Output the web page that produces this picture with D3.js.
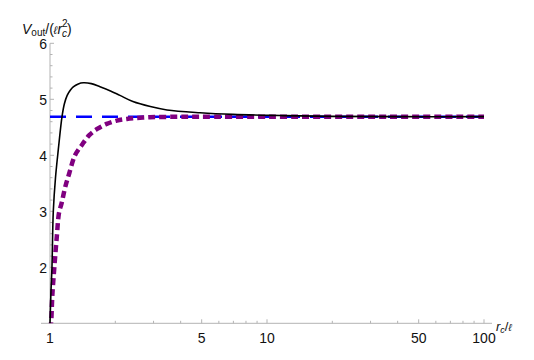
<!DOCTYPE html>
<html><head><meta charset="utf-8">
<script src="https://cdn.jsdelivr.net/npm/d3@7"></script>
<style>
body{margin:0;background:#fff;}
svg text{font-family:"Liberation Sans",Arial,sans-serif;fill:#111;}
</style></head>
<body><svg id="c" width="534" height="360"></svg>
<script>
// data
const asymptote = 4.69;
const blackX = [1.0, 1.01, 1.021, 1.0356, 1.06, 1.092, 1.136, 1.165, 1.2, 1.24, 1.28, 1.35, 1.424, 1.55, 1.70, 1.90, 2.10, 2.41, 2.9, 3.46, 4.91, 6.97, 11.5, 20, 40, 100];
const blackY = [1.0, 1.55, 2.0, 3.0, 3.6, 4.1, 4.69, 4.92, 5.07, 5.16, 5.22, 5.275, 5.295, 5.28, 5.225, 5.15, 5.07, 4.96, 4.87, 4.81, 4.76, 4.73, 4.71, 4.695, 4.69, 4.69];
const purpleX = [1.0, 1.011, 1.025, 1.047, 1.075, 1.10, 1.132, 1.173, 1.227, 1.304, 1.40, 1.517, 1.65, 1.825, 2.03, 2.26, 2.89, 3.8, 4.91, 10, 30, 100];
const purpleY = [0.9, 1.0, 1.5, 2.0, 2.55, 2.97, 3.15, 3.42, 3.68, 4.0, 4.18, 4.36, 4.47, 4.56, 4.62, 4.65, 4.68, 4.687, 4.69, 4.69, 4.69, 4.69];
const xTicks = [1, 5, 10, 50, 100];
const xMinor = [2,3,4,6,7,8,9,20,30,40,60,70,80,90];
const yTicks = [2, 3, 4, 5, 6];

const svg = d3.select("#c");
const x = d3.scaleLog().domain([1, 100]).range([50, 484]);
const y = d3.scaleLinear().domain([1, 6]).range([323.3, 43.3]);

svg.append("defs").append("clipPath").attr("id","clip")
  .append("rect").attr("x",45).attr("y",40).attr("width",445).attr("height",283.3);

const axisCol = "#b3b3b3";
// x axis
svg.append("line").attr("x1",41).attr("x2",492).attr("y1",y(1)).attr("y2",y(1))
  .attr("stroke",axisCol).attr("stroke-width",1);
svg.append("g").selectAll("line").data(xTicks).join("line")
  .attr("x1",d=>x(d)).attr("x2",d=>x(d)).attr("y1",y(1)).attr("y2",y(1)-4)
  .attr("stroke",axisCol);
svg.append("g").selectAll("line").data(xMinor).join("line")
  .attr("x1",d=>x(d)).attr("x2",d=>x(d)).attr("y1",y(1)).attr("y2",y(1)-2.5)
  .attr("stroke",axisCol);
svg.append("g").selectAll("text").data(xTicks).join("text")
  .attr("x",d=>x(d)).attr("y",343).attr("text-anchor","middle")
  .attr("font-size",14).text(d=>d);

// y axis
svg.append("line").attr("x1",50).attr("x2",50).attr("y1",y(1)).attr("y2",y(6))
  .attr("stroke",axisCol).attr("stroke-width",1);
const yMinor = d3.range(1.2, 6.0, 0.2).filter(v=>Math.abs(v-Math.round(v))>0.05);
svg.append("g").selectAll("line").data(yTicks).join("line")
  .attr("x1",50).attr("x2",54).attr("y1",d=>y(d)).attr("y2",d=>y(d))
  .attr("stroke",axisCol);
svg.append("g").selectAll("line").data(yMinor).join("line")
  .attr("x1",50).attr("x2",52.5).attr("y1",d=>y(d)).attr("y2",d=>y(d))
  .attr("stroke",axisCol);
svg.append("g").selectAll("text").data(yTicks).join("text")
  .attr("x",47).attr("y",d=>y(d)+5.5).attr("text-anchor","end")
  .attr("font-size",14).text(d=>d);

const plot = svg.append("g").attr("clip-path","url(#clip)");
// asymptote
plot.append("line").attr("x1",x(1)).attr("x2",x(100))
  .attr("y1",y(asymptote)).attr("y2",y(asymptote))
  .attr("stroke","#0000ff").attr("stroke-width",2.5).attr("stroke-dasharray","16,10");

const lineGen = d3.line().x(d=>x(d[0])).y(d=>y(d[1])).curve(d3.curveCatmullRom.alpha(0.5));
plot.append("path").datum(d3.zip(purpleX, purpleY)).attr("d",lineGen)
  .attr("fill","none").attr("stroke","#800080").attr("stroke-width",4.5)
  .attr("stroke-dasharray","7,4");
plot.append("path").datum(d3.zip(blackX, blackY)).attr("d",lineGen)
  .attr("fill","none").attr("stroke","#000").attr("stroke-width",1.6);

// y label
const yl = svg.append("text").attr("x",22).attr("y",34).attr("font-size",14);
yl.append("tspan").attr("font-style","italic").text("V");
yl.append("tspan").attr("font-size",10).attr("dy",1.5).text("out");
yl.append("tspan").attr("dy",-1.5).text("/(");
yl.append("tspan").attr("font-style","italic").attr("font-size",11).text("ℓ");
yl.append("tspan").attr("font-style","italic").text("r");
yl.append("tspan").attr("font-size",10).attr("dy",-7).text("2");
yl.append("tspan").attr("font-size",10).attr("font-style","italic").attr("dx",-5.5).attr("dy",9.5).text("c");
yl.append("tspan").attr("dy",-2.5).text(")");

// x label
const xl = svg.append("text").attr("x",496).attr("y",331).attr("font-size",13);
xl.append("tspan").attr("font-style","italic").text("r");
xl.append("tspan").attr("font-size",9).attr("font-style","italic").attr("dy",2).text("c");
xl.append("tspan").attr("dy",-2).text("/");
xl.append("tspan").attr("font-style","italic").attr("font-size",10).text("ℓ");
</script></body></html>
